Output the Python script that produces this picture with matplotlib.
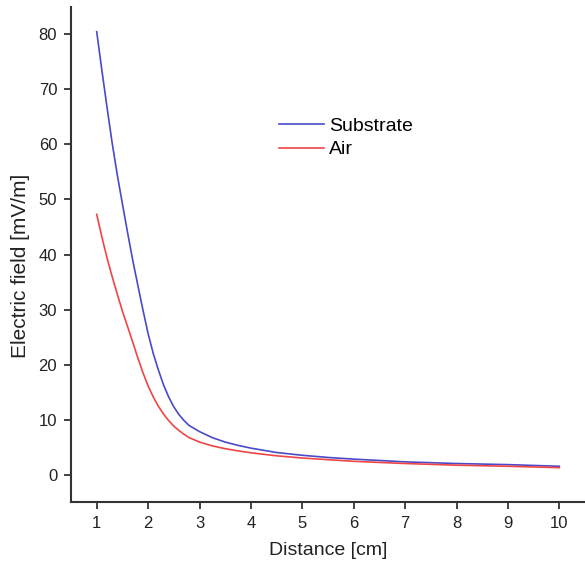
import matplotlib
matplotlib.use('Agg')
import matplotlib.pyplot as plt

plt.rcParams['font.family'] = ['Liberation Sans', 'DejaVu Sans']

# distance [cm]
distance = [1.0, 1.1, 1.2, 1.3, 1.4, 1.5, 1.6, 1.7, 1.8, 1.9, 2.0, 2.1, 2.2, 2.3,
            2.4, 2.5, 2.6, 2.7, 2.8, 3.0, 3.25, 3.5, 3.75, 4.0, 4.5, 5.0, 5.5,
            6.0, 7.0, 8.0, 9.0, 10.0]
# electric field [mV/m]
substrate = [80.5, 73.5, 66.8, 60.3, 54.5, 49.2, 44.0, 39.0, 34.4, 29.9, 25.6,
             22.0, 19.0, 16.3, 14.1, 12.3, 10.9, 9.8, 8.9, 7.8, 6.7, 5.9, 5.3,
             4.8, 4.0, 3.5, 3.1, 2.8, 2.3, 2.0, 1.8, 1.5]
air = [47.3, 43.2, 39.4, 36.0, 32.8, 29.7, 26.9, 24.1, 21.2, 18.5, 16.1, 14.1,
       12.4, 11.0, 9.8, 8.8, 8.0, 7.3, 6.7, 5.9, 5.2, 4.7, 4.3, 3.95, 3.4, 3.0,
       2.7, 2.4, 2.0, 1.7, 1.5, 1.25]

xticks = list(range(1, 11))
yticks = list(range(0, 90, 10))

fig = plt.figure(figsize=(5.85, 5.63), dpi=100)
ax = fig.add_axes([0.1214, 0.1083, 0.8786, 0.8793])

ax.plot(distance, substrate, color='#4a4ac8', lw=1.2, label='Substrate')
ax.plot(distance, air, color='#f04545', lw=1.2, label='Air')

ax.set_xlim(0.5, 10.5)
ax.set_ylim(-5, 85)
ax.set_xticks(xticks)
ax.set_yticks(yticks)

for side in ['top', 'right']:
    ax.spines[side].set_visible(False)
for side in ['left', 'bottom']:
    ax.spines[side].set_color('#333333')
    ax.spines[side].set_linewidth(1.5)
ax.tick_params(direction='out', length=5, width=1.3, color='#333333',
               labelsize=12, labelcolor='#222222', pad=5)

ax.set_xlabel('Distance [cm]', fontsize=14, color='#222222', labelpad=8)
ax.set_ylabel('Electric field [mV/m]', fontsize=15, color='#222222')
ax.yaxis.set_label_coords(-0.080, 0.477)

ax.legend(loc='upper left', bbox_to_anchor=(0.405, 0.777), frameon=False,
          fontsize=14, handlelength=2.3, handletextpad=0.25, borderpad=0,
          borderaxespad=0, labelspacing=0.3)

fig.savefig('out.png', dpi=100)
